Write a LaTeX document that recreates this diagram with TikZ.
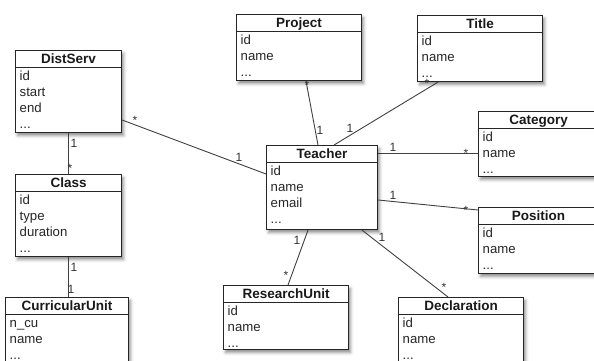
\documentclass[tikz,border=0pt]{standalone}
\usepackage{fontspec}
\setmainfont{Liberation Sans}
\usetikzlibrary{shadows.blur}

\tikzset{
  classbox/.style={draw=black!85, line width=1.1pt, fill=white, inner sep=0pt,
    blur shadow={shadow xshift=2pt, shadow yshift=-3pt, shadow blur radius=3pt, shadow opacity=45}},
  classline/.style={draw=black!85, line width=1pt},
  classtitle/.style={font=\fontsize{13.5}{14}\selectfont\bfseries, inner sep=0pt, text=black!90},
  classattrs/.style={font=\fontsize{13.2}{16}\selectfont, align=left, inner sep=0pt, text=black!85},
  assoc/.style={draw=black!75, line width=0.9pt},
  mult/.style={font=\fontsize{12}{12}\selectfont, inner sep=0pt, text=black!80},
}

% #1 node name, #2 x, #3 y (top-left), #4 width, #5 height, #6 title, #7 attributes
% The strut (11.2pt tall at a 16pt baselineskip) puts the first baseline 30pt below the top.
\newcommand\umlclass[7]{%
  \node[classbox, minimum width=#4, minimum height=#5, anchor=north west] (#1) at (#2,#3) {};
  \draw[classline] ([yshift=-17pt]#1.north west) -- ([yshift=-17pt]#1.north east);
  \node[classtitle, anchor=base] (#1-title) at ([yshift=-13pt]#1.north) {#6};
  \node[classattrs, anchor=north west] (#1-attrs) at ([xshift=4.5pt,yshift=-18.8pt]#1.north west) {\strut #7};
}

\begin{document}
\begin{tikzpicture}[x=1pt,y=-1pt]
\useasboundingbox (0,0) rectangle (594,360);
\clip (0,0) rectangle (594,360);

% classes
\umlclass{distserv}{15}{50}{106pt}{82pt}{DistServ}{id\\start\\end\\...}
\umlclass{class}{15}{174}{106pt}{82pt}{Class}{id\\type\\duration\\...}
\umlclass{curricular}{5}{297}{123pt}{80pt}{CurricularUnit}{n\_cu\\name\\...}
\umlclass{project}{236}{14}{125pt}{66pt}{Project}{id\\name\\...}
\umlclass{title}{417}{15}{125pt}{66pt}{Title}{id\\name\\...}
\umlclass{teacher}{266}{145}{111pt}{84pt}{Teacher}{id\\name\\email\\...}
\umlclass{category}{478}{111}{120pt}{65pt}{Category}{id\\name\\...}
\umlclass{position}{478}{207}{120pt}{66pt}{Position}{id\\name\\...}
\umlclass{research}{223}{285}{125pt}{64pt}{ResearchUnit}{id\\name\\...}
\umlclass{declaration}{398}{297}{125pt}{80pt}{Declaration}{id\\name\\...}

% association end points
\coordinate (ds-e) at (distserv.north east |- 0,120);
\coordinate (t-w) at (teacher.north west |- 0,174);
\coordinate (ds-s) at (distserv.south west -| 68,0);
\coordinate (cl-n) at (class.north west -| 68,0);
\coordinate (cl-s) at (class.south west -| 68,0);
\coordinate (cu-n) at (curricular.north west -| 68,0);
\coordinate (p-s) at (project.south west -| 306,0);
\coordinate (t-n1) at (teacher.north west -| 318,0);
\coordinate (ti-s) at (title.south west -| 438,0);
\coordinate (t-n2) at (teacher.north west -| 334,0);
\coordinate (t-e1) at (teacher.north east |- 0,153);
\coordinate (ca-w) at (category.north west |- 0,153);
\coordinate (t-e2) at (teacher.north east |- 0,200);
\coordinate (po-w) at (position.north west |- 0,210);
\coordinate (t-s1) at (teacher.south west -| 308,0);
\coordinate (ru-n) at (research.north west -| 288,0);
\coordinate (t-s2) at (teacher.south west -| 362,0);
\coordinate (de-n) at (declaration.north west -| 448,0);

% associations
\draw[assoc] (ds-e) -- (t-w);
\draw[assoc] (ds-s) -- (cl-n);
\draw[assoc] (cl-s) -- (cu-n);
\draw[assoc] (p-s) -- (t-n1);
\draw[assoc] (ti-s) -- (t-n2);
\draw[assoc] (t-e1) -- (ca-w);
\draw[assoc] (t-e2) -- (po-w);
\draw[assoc] (t-s1) -- (ru-n);
\draw[assoc] (t-s2) -- (de-n);

% multiplicities
\node[mult] (m1) at (135,120) {*};
\node[mult] (m2) at (239,157) {1};
\node[mult] (m3) at (74,143) {1};
\node[mult] (m4) at (70,168) {*};
\node[mult] (m5) at (74,267) {1};
\node[mult] (m6) at (71,289) {1};
\node[mult] (m7) at (307,85) {*};
\node[mult] (m8) at (320,130) {1};
\node[mult] (m9) at (427,83) {*};
\node[mult] (m10) at (350,128) {1};
\node[mult] (m11) at (393,147) {1};
\node[mult] (m12) at (466,153) {*};
\node[mult] (m13) at (393,195) {1};
\node[mult] (m14) at (466,210) {*};
\node[mult] (m15) at (297,240) {1};
\node[mult] (m16) at (286,275) {*};
\node[mult] (m17) at (382,237) {1};
\node[mult] (m18) at (444,287) {*};
\end{tikzpicture}
\end{document}
